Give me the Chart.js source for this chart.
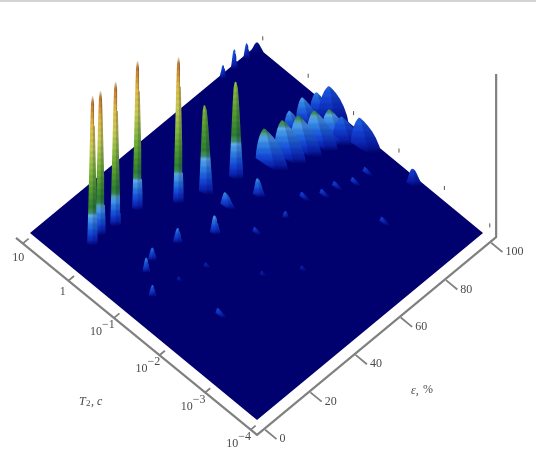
<!DOCTYPE html>
<html>
<head>
<meta charset="utf-8">
<title>T2 - porosity map</title>
<script src="https://cdn.jsdelivr.net/npm/chart.js@4"></script>
<style>
  html, body { margin: 0; padding: 0; background: #fff; }
  canvas { display: block; filter: blur(0.5px); }
  #topo { position: absolute; left: 0; top: 0; width: 536px; height: 2px; background: #d4d4d4; }
</style>
</head>
<body>
<canvas id="grafico" width="536" height="476"></canvas>
<div id="topo"></div>
<script>
// ticks
const t2Ticks = [1, 0, -1, -2, -3, -4];
const t2TickBase = ["10", "1", "10", "10", "10", "10"];
const t2TickExp = ["", "", "−1", "−2", "−3", "−4"];
const epsTicks = [0, 20, 40, 60, 80, 100];

// peaks
const peakEps = [12.2, 16.6, 22.4, 31.5, 42.4, 51, 62,
  73.7, 79.5, 84.9, 90, 94.7,
  86.6, 91.7, 97.5, 99.7, 97, 98.9, 99.4,
  85, 90, 95.5, 100,
  51.8, 42, 31.4, 21, 16.3, 11.2, 61.7, 61.5,
  70.4, 75.6, 80.5, 85.6, 91, 81.4, 20.5, 50.6, 30.5, 20.8, 40.6, 50.9];
const peakLogT2 = [0.23, 0.275, 0.23, 0.2, -0.16, -0.3, -0.44,
  -0.49, -0.6, -0.68, -0.78, -0.875,
  -0.4, -0.43, -0.45, -0.615, -1.03, -1.33, -2.475,
  0.98, 0.98, 0.98, 0.98,
  -0.71, -0.97, -0.69, -0.65, -0.75, -1.14, -0.935, -1.565,
  -1.475, -1.655, -1.69, -1.84, -1.84, -2.69, -2.11, -1.425, -1.35, -1.24, -2.08, -2.45];
const peakHeight = [88, 85, 85, 88, 86, 50, 55,
  14, 15, 13.5, 13, 10.5,
  8, 11, 8, 13, 7, 11, 5.5,
  6, 10, 7.5, 3,
  5, 8, 6, 5, 6.5, 4.5, 7.5, 2,
  1.5, 1.5, 1.5, 1.5, 1.5, 1.5, 2, 1.5, 1, 1, 1, 1];
const peakLevel = [1, 1, 1, 1, 1, 0.5, 0.55,
  0.245, 0.245, 0.245, 0.24, 0.235,
  0.18, 0.19, 0.15, 0.11, 0.13, 0.12, 0.08,
  0.1, 0.12, 0.1, 0.02,
  0.17, 0.19, 0.15, 0.14, 0.16, 0.13, 0.17, 0.09,
  0.08, 0.08, 0.08, 0.08, 0.08, 0.07, 0.09, 0.07, 0.05, 0.05, 0.04, 0.04];
const peakSpreadEps = [2.4, 2.4, 2.4, 2.4, 2.4, 2.4, 2.9,
  3.8, 3.8, 3.8, 3.8, 3.8,
  2.4, 2.8, 2.8, 4.8, 3.8, 3.8, 2.8,
  1.6, 1.6, 1.6, 3,
  2, 2, 2.2, 2, 1.8, 1.8, 2, 1.6,
  1, 1, 1, 1, 1, 1, 1, 1, 1, 1, 1, 1];
const peakSpreadT2 = [0.12, 0.12, 0.12, 0.12, 0.12, 0.2, 0.18,
  0.53, 0.53, 0.53, 0.53, 0.53,
  0.33, 0.4, 0.4, 0.44, 0.48, 0.48, 0.22,
  0.08, 0.08, 0.08, 0.15,
  0.24, 0.14, 0.11, 0.1, 0.09, 0.09, 0.18, 0.08,
  0.22, 0.22, 0.22, 0.22, 0.22, 0.22, 0.22, 0.18, 0.12, 0.08, 0.12, 0.14];
const moundPeaks = [7, 8, 9, 10, 11, 12, 13, 14, 15, 16, 17];

// height fraction -> foot width fraction
const spikeProfileZ = [0, 0.08, 0.2, 0.4, 0.6, 0.8, 0.95, 1];
const spikeProfileW = [1, 0.92, 0.82, 0.68, 0.55, 0.42, 0.28, 0.1];
const moundProfileZ = [0, 0.3, 0.6, 0.8, 0.92, 0.98, 1];
const moundProfileW = [1, 0.92, 0.76, 0.58, 0.4, 0.22, 0.05];

// colour map of the surface
const levels = [0, 0.03, 0.08, 0.14, 0.2, 0.215, 0.25, 0.37, 0.5, 0.66, 0.8, 0.89, 0.96, 1];
const levelColors = [[0, 0, 110], [10, 32, 176], [20, 72, 220], [42, 124, 232], [92, 176, 240],
  [70, 150, 110], [47, 130, 50], [84, 160, 44], [136, 190, 60], [204, 206, 84],
  [228, 190, 70], [212, 146, 48], [196, 124, 48], [248, 240, 220]];

// plane -> picture
function project(eps, logT2, z) {
  const a = eps / 100;
  const b = (logT2 + 4) / 5;
  return { x: 257 + 226 * a - 227 * b, y: 420 - 187 * (a + b) - 1.63 * z };
}

function colorAt(level, shade) {
  let i = 0;
  while (i < levels.length - 2 && level > levels[i + 1]) i++;
  const f = Math.min(1, (level - levels[i]) / (levels[i + 1] - levels[i]));
  const c = levelColors[i].map((v, k) => Math.round((v + (levelColors[i + 1][k] - v) * f) * shade));
  return "rgb(" + c.join(",") + ")";
}

function peakOutline(i) {
  const e = peakEps[i], t = peakLogT2[i], h = peakHeight[i];
  const we = peakSpreadEps[i], wt = peakSpreadT2[i];
  const mound = moundPeaks.includes(i);
  const pz = mound ? moundProfileZ : spikeProfileZ;
  const pw = mound ? moundProfileW : spikeProfileW;
  const left = [], right = [];
  pz.forEach((z, k) => {
    left.push(project(e - we * pw[k], t, h * z));
    right.push(project(e, t - wt * pw[k], h * z));
  });
  const front = [
    project(e - we * 0.9, t - wt * 0.4, 0),
    project(e - we * 0.75, t - wt * 0.75, 0),
    project(e - we * 0.4, t - wt * 0.9, 0)
  ];
  return { left, right, front };
}

function peakFill(chart, i) {
  const sy = chart.scales.y;
  const fallback = "#00006e";
  if (!sy) return fallback;
  const yFoot = sy.getPixelForValue(project(peakEps[i] - peakSpreadEps[i] * 0.75, peakLogT2[i] - peakSpreadT2[i] * 0.75, 0).y);
  const yTop = sy.getPixelForValue(project(peakEps[i], peakLogT2[i], peakHeight[i]).y);
  if (!isFinite(yFoot) || !isFinite(yTop)) return fallback;
  const g = chart.ctx.createLinearGradient(0, yFoot, 0, yTop);
  const n = Math.max(2, Math.round((yFoot - yTop) / 3));
  for (let k = 0; k <= n; k++) {
    g.addColorStop(k / n, colorAt(peakLevel[i] * k / n, k % 2 ? 0.93 : 1));
  }
  return g;
}

function shapeDataset(points, fillColor, order) {
  return {
    data: points,
    showLine: true,
    fill: "shape",
    backgroundColor: fillColor,
    borderWidth: 0,
    borderColor: "transparent",
    pointRadius: 0,
    tension: 0,
    order: order
  };
}

function lineDataset(points, width, order) {
  return {
    data: points,
    showLine: true,
    fill: false,
    borderColor: "#808080",
    borderWidth: width,
    pointRadius: 0,
    order: order
  };
}

const datasets = [];

// plane
datasets.push(shapeDataset([project(0, 1, 0), project(100, 1, 0), project(100, -4, 0), project(0, -4, 0)], "#00006e", 9000));

// axes
const axisPath = [project(-4.4, 1.09, 0), project(-4, -4.2, 0), project(101.8, -4.2, 0), project(101.8, -4.2, 100)];
datasets.push(lineDataset(axisPath, 2.2, 8990));
t2Ticks.forEach(t => {
  datasets.push(lineDataset([project(-4.2, t - 0.06, 0), project(-1.8, t - 0.06, 0)], 1.8, 8990));
});
epsTicks.forEach(e => {
  datasets.push(lineDataset([project(e - 0.8, -4.22, 0), project(e - 0.8, -4.47, 0)], 1.8, 8990));
});
// small marks along the back edge
t2Ticks.forEach(t => {
  const d = lineDataset([project(103, t, 0), project(103, t, 2.5)], 1, 8990);
  d.borderColor = "#555";
  datasets.push(d);
});

// peaks, back to front
const peakOrder = peakEps.map((_, i) => i).sort((p, q) =>
  project(peakEps[p], peakLogT2[p], 0).y - project(peakEps[q], peakLogT2[q], 0).y);

peakOrder.forEach((i, pos) => {
  const o = peakOutline(i);
  const outline = o.left.slice().reverse().concat(o.front, o.right);
  const order = 8000 - pos * 2;
  datasets.push(shapeDataset(outline, c => peakFill(c.chart, i), order));
  // right side a bit darker
  const shade = o.right.concat([o.front[1], o.front[2]]);
  datasets.push(shapeDataset(shade, "rgba(0,0,90,0.2)", order - 1));
});

// labels
const textLabels = {
  id: "textLabels",
  afterDraw(chart) {
    const c = chart.ctx;
    const sx = chart.scales.x, sy = chart.scales.y;
    c.save();
    c.fillStyle = "#4a4a4a";
    c.textBaseline = "middle";
    c.font = "12px 'Liberation Serif'";

    t2Ticks.forEach((t, i) => {
      const p = project(-4.2, t - 0.06, 0);
      const px = sx.getPixelForValue(p.x), py = sy.getPixelForValue(p.y);
      const hasExp = t2TickExp[i] !== "";
      c.textAlign = "right";
      c.fillText(t2TickBase[i], px + (hasExp ? -12 : t === 1 ? 1 : -3), py + (hasExp ? 14 : t === 1 ? 15 : 11));
      if (hasExp) {
        c.textAlign = "left";
        c.fillText(t2TickExp[i], px - 12, py + 7);
      }
    });

    c.textAlign = "left";
    epsTicks.forEach(e => {
      const p = project(e - 0.8, -4.47, 0);
      c.fillText(String(e), sx.getPixelForValue(p.x) + 3, sy.getPixelForValue(p.y));
    });

    c.font = "italic 12px 'Liberation Serif'";
    c.fillText("T", 79, 402);
    c.font = "9px 'Liberation Serif'";
    c.fillText("2", 86, 404);
    c.font = "italic 12px 'Liberation Serif'";
    c.fillText(", c", 91, 402);

    c.fillText("ε,", 411, 391);
    c.font = "12px 'Liberation Serif'";
    c.fillText("%", 423, 390);
    c.restore();
  }
};

new Chart(document.getElementById("grafico"), {
  type: "scatter",
  data: { datasets: datasets },
  options: {
    responsive: false,
    animation: false,
    parsing: false,
    normalized: false,
    layout: { padding: 0 },
    plugins: { legend: { display: false }, tooltip: { enabled: false } },
    elements: { line: { borderJoinStyle: "round" } },
    scales: {
      x: { type: "linear", min: 0, max: 536, display: false },
      y: { type: "linear", min: 0, max: 476, reverse: true, display: false }
    }
  },
  plugins: [textLabels]
});
</script>
</body>
</html>
